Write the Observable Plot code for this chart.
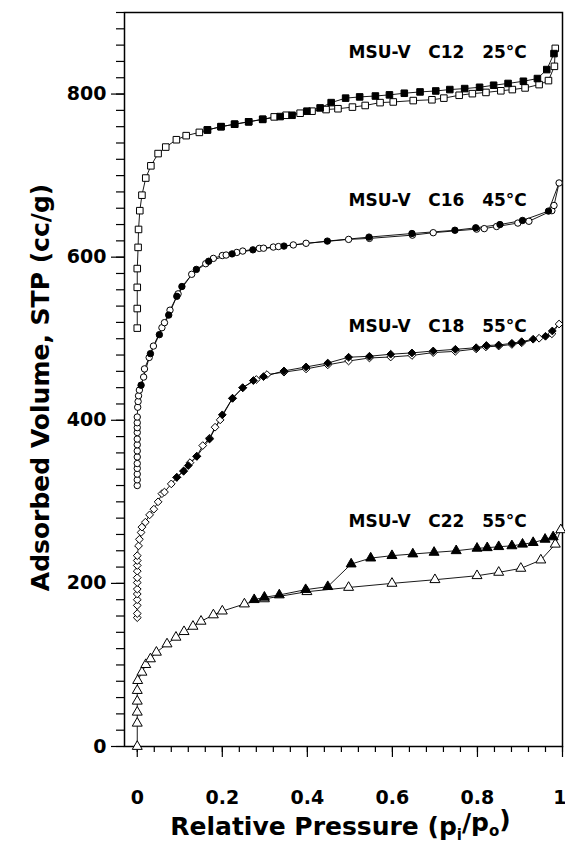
<!DOCTYPE html>
<html>
<head>
<meta charset="utf-8">
<script src="https://cdn.jsdelivr.net/npm/d3@7"></script>
<script src="https://cdn.jsdelivr.net/npm/@observablehq/plot@0.6"></script>
<style>
  html, body { margin: 0; padding: 0; background: #fff; }
</style>
</head>
<body>
<div id="chart"></div>
<script>
// ---- data: [relative pressure, adsorbed volume cc/g] ----
const c12Ads = [[0,513],[0,537],[0,563],[0,586],[0.002,612],[0.003,634],[0.006,657],[0.011,676],[0.020,697],[0.032,712],[0.049,727],[0.067,735],[0.092,744],[0.115,749],[0.146,753],[0.165,756],[0.197,760],[0.229,763],[0.262,766],[0.295,769],[0.322,772],[0.35,774],[0.383,776.5],[0.411,779],[0.444,781],[0.472,782],[0.506,784],[0.536,786],[0.571,789.5],[0.602,790.3],[0.649,792],[0.693,793],[0.721,795],[0.757,798.5],[0.788,800.5],[0.820,802],[0.855,804],[0.882,805.5],[0.912,807.5],[0.945,811.6],[0.967,816.5],[0.981,834],[0.983,856]];
const c12Des = [[0.165,756],[0.197,760],[0.229,763],[0.262,766],[0.295,769],[0.336,772.4],[0.364,774],[0.399,779],[0.430,783],[0.456,789.5],[0.490,795],[0.523,796.5],[0.560,797.6],[0.593,799],[0.628,801],[0.665,802.6],[0.702,803.8],[0.735,805.5],[0.770,806.7],[0.805,808.3],[0.838,810.8],[0.872,813],[0.908,815.7],[0.941,819],[0.963,830],[0.980,849.6]];

const c16Ads = [[0,320],[0,327],[0,334],[0,341],[0,347],[0,355],[0,362.5],[0,370],[0,377],[0,385],[0,391],[0,397],[0,404],[0.001,416],[0.002,423],[0.003,430],[0.005,437],[0.015,453],[0.017,463],[0.028,477],[0.038,491],[0.058,513.5],[0.064,519.7],[0.077,535],[0.096,555],[0.128,579],[0.161,592],[0.179,598.5],[0.200,602],[0.209,602.6],[0.234,605.8],[0.248,607.5],[0.287,610.8],[0.297,611],[0.320,612.4],[0.332,613],[0.367,615],[0.397,617],[0.497,621.8],[0.546,623],[0.647,627],[0.696,630],[0.798,634.4],[0.816,635],[0.845,637.6],[0.895,641.8],[0.921,644],[0.975,657],[0.980,663.4],[0.992,691]];
const c16Des = [[0.009,443],[0.031,481.7],[0.052,505],[0.074,529],[0.093,552],[0.105,564],[0.139,585],[0.168,595],[0.223,604],[0.272,609],[0.345,613.6],[0.447,619.7],[0.545,624.6],[0.646,629],[0.747,633],[0.796,636],[0.853,640],[0.906,645],[0.967,656.5]];

const c18Ads = [[0,158],[0,163],[0,173],[0,180],[0,187],[0,193],[0,201],[0,207],[0,215],[0,222],[0,228],[0,234],[0.003,246],[0.005,254],[0.009,262.5],[0.011,269],[0.019,275],[0.029,284],[0.039,291],[0.049,300],[0.058,310],[0.064,312],[0.080,322],[0.093,330],[0.109,338],[0.124,348],[0.140,356],[0.154,369],[0.170,378],[0.183,391.5],[0.195,400.5],[0.224,427],[0.248,440],[0.280,450],[0.305,456],[0.345,459],[0.397,463],[0.448,468],[0.497,472.7],[0.546,476.4],[0.596,477.6],[0.646,479.5],[0.696,483],[0.748,484.5],[0.797,487.5],[0.820,490],[0.850,491],[0.881,493],[0.904,495],[0.945,500.6],[0.975,506],[0.992,518]];
const c18Des = [[0.093,330],[0.109,337.5],[0.120,344.5],[0.140,355.6],[0.170,377],[0.200,406.7],[0.224,427],[0.248,439.8],[0.273,448.7],[0.297,453.6],[0.345,460.5],[0.397,465.4],[0.448,470.2],[0.497,477.3],[0.546,478.5],[0.596,481],[0.646,482.6],[0.696,485],[0.748,487],[0.797,489],[0.821,491.7],[0.850,492.3],[0.881,494.4],[0.904,496.4],[0.931,499.4],[0.960,503],[0.976,509.5]];

const c22Ads = [[0,0],[0,28.5],[0,42],[0,55.5],[0,68.6],[0.001,80.8],[0.011,91],[0.020,100.4],[0.031,107.4],[0.045,115.5],[0.070,125.7],[0.091,133.9],[0.110,140.8],[0.131,147.3],[0.150,153.5],[0.179,161.3],[0.200,166],[0.252,174.7],[0.299,181],[0.399,189.8],[0.497,195],[0.599,200],[0.700,204.5],[0.799,209.4],[0.850,213.5],[0.902,218.4],[0.949,228.6],[0.983,248],[0.996,265.7]];
const c22Des = [[0.275,180],[0.299,183],[0.334,185.8],[0.396,192.3],[0.448,196],[0.503,223.7],[0.549,231],[0.599,234],[0.648,236],[0.698,238],[0.750,240],[0.799,243],[0.823,243.7],[0.850,245],[0.881,246],[0.906,248],[0.931,250],[0.959,254],[0.978,257]];

const sampleLabels = ["MSU-V   C12   25°C", "MSU-V   C16   45°C", "MSU-V   C18   55°C", "MSU-V   C22   55°C"];
const labelAnchorP = [0.497, 0.497, 0.497, 0.497];
const labelAnchorV = [851, 670, 515, 276];

const xMajorTicks = [0, 0.2, 0.4, 0.6, 0.8, 1];
const xTickLabels = ["0", "0.2", "0.4", "0.6", "0.8", "1"];
const xMinorTicks = d3.range(0, 26).map(i => i * 0.04);
const yMajorTicks = [0, 200, 400, 600, 800];
const yMinorTicks = d3.range(0, 46).map(i => i * 20);

const xTitle = "Relative Pressure (p_i/p_o)";
const yTitle = "Adsorbed Volume, STP (cc/g)";

// ---- chart ----
const series = [
  {ads: c12Ads, des: c12Des, symbol: "square", r: 3.7},
  {ads: c16Ads, des: c16Des, symbol: "circle", r: 3.2},
  {ads: c18Ads, des: c18Des, symbol: "diamond2", r: 3.5},
  {ads: c22Ads, des: c22Des, symbol: "triangle", r: 3.7}
];

const marks = [];
for (const s of series) {
  const desLine = s.des.concat([s.ads[s.ads.length - 1]]);
  marks.push(Plot.line(s.ads, {x: d => d[0], y: d => d[1], stroke: "black", strokeWidth: 0.9}));
  marks.push(Plot.line(desLine, {x: d => d[0], y: d => d[1], stroke: "black", strokeWidth: 0.9}));
}
for (const s of series) {
  marks.push(Plot.dot(s.ads, {x: d => d[0], y: d => d[1], symbol: s.symbol, r: s.r, fill: "white", stroke: "black", strokeWidth: 1}));
  marks.push(Plot.dot(s.des, {x: d => d[0], y: d => d[1], symbol: s.symbol, r: s.r, fill: "black", stroke: "black", strokeWidth: 1}));
}

const annotations = sampleLabels.map((t, i) => ({t: t.replace(/ /g, "\u00a0"), x: labelAnchorP[i], y: labelAnchorV[i]}));

const chart = Plot.plot({
  width: 565,
  height: 844,
  marginTop: 12,
  marginBottom: 98,
  marginLeft: 124,
  marginRight: 3,
  style: {fontFamily: "'DejaVu Sans', sans-serif", fontWeight: "bold", color: "black", background: "white"},
  x: {domain: [-0.03, 1]},
  y: {domain: [0, 900]},
  marks: [
    Plot.axisX(xMinorTicks, {tickSize: 6, tickFormat: () => "", label: null, strokeWidth: 1.2}),
    Plot.axisX(xMajorTicks, {tickSize: 11, tickPadding: 33, fontSize: 19, label: null, strokeWidth: 1.2,
      tickFormat: (d) => xTickLabels[xMajorTicks.indexOf(d)]}),
    Plot.axisY(yMinorTicks, {tickSize: 8, tickFormat: () => "", label: null, strokeWidth: 1.2}),
    Plot.axisY(yMajorTicks, {tickSize: 13, tickPadding: 5, fontSize: 19, label: null, strokeWidth: 1.2,
      tickFormat: d => String(d)}),
    Plot.frame({stroke: "black", strokeWidth: 1.5}),
    ...marks,
    Plot.text(annotations, {x: "x", y: "y", text: "t", textAnchor: "start", fontSize: 17, fontWeight: "bold", fill: "black"}),
    Plot.text([yTitle], {frameAnchor: "left", textAnchor: "middle", lineAnchor: "middle", dx: -84, dy: 8, rotate: -90, fontSize: 25, fontWeight: "bold", fill: "black"}),
    Plot.text([xTitle], {frameAnchor: "bottom", textAnchor: "middle", lineAnchor: "middle", dx: -3, dy: 80, fontSize: 25, fontWeight: "bold", fill: "black"})
  ]
});

document.getElementById("chart").appendChild(chart);

for (const t of chart.querySelectorAll("text")) {
  // render subscripts in the x-axis title
  if (t.textContent === xTitle) {
    const parts = [["Relative Pressure (p", 0, null], ["i", 0.35, "60%"], ["/p", -0.35, null], ["o", 0.35, "60%"], [")", -0.35, null]];
    t.textContent = "";
    for (const [str, dy, fs] of parts) {
      const ts = document.createElementNS("http://www.w3.org/2000/svg", "tspan");
      ts.textContent = str;
      if (dy) ts.setAttribute("dy", dy + "em");
      if (fs) ts.setAttribute("font-size", fs);
      t.appendChild(ts);
    }
  }
  // keep the last x tick label inside the picture, as in the reference
  if (t.textContent === xTickLabels[xTickLabels.length - 1] && t.closest("[aria-label='x-axis tick label']")) {
    t.setAttribute("text-anchor", "end");
    t.setAttribute("dx", "4");
  }
}
</script>
</body>
</html>
